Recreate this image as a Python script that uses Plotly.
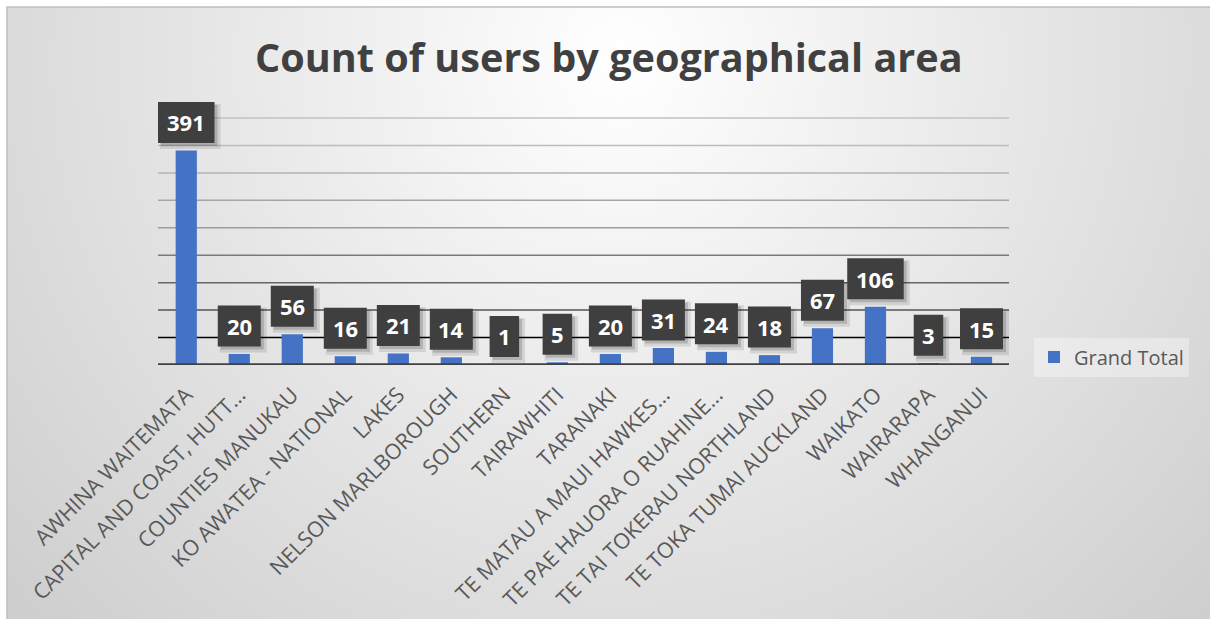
import base64
import plotly.graph_objects as go

# ---- data -------------------------------------------------------------
categories = [
    "AWHINA WAITEMATA",
    "CAPITAL AND COAST, HUTT…",
    "COUNTIES MANUKAU",
    "KO AWATEA - NATIONAL",
    "LAKES",
    "NELSON MARLBOROUGH",
    "SOUTHERN",
    "TAIRAWHITI",
    "TARANAKI",
    "TE MATAU A MAUI HAWKES…",
    "TE PAE HAUORA O RUAHINE…",
    "TE TAI TOKERAU NORTHLAND",
    "TE TOKA TUMAI AUCKLAND",
    "WAIKATO",
    "WAIRARAPA",
    "WHANGANUI",
]
users = [391, 20, 56, 16, 21, 14, 1, 5, 20, 31, 24, 18, 67, 106, 3, 15]
series_name = "Grand Total"
title_text = "Count of users by geographical area"
grid_values = [50, 100, 150, 200, 250, 300, 350, 400, 450]
grid_max = 450

# ---- layout geometry (pixels) ------------------------------------------
W, H = 1210, 619
GRID_TOP = 118                      # pixel row of the top grid line
PLOT_L, PLOT_R, PLOT_T, PLOT_B = 158, 1009, 80, 365
PW, PH = PLOT_R - PLOT_L, PLOT_B - PLOT_T
FRAME_X, FRAME_Y = 7, 7
# extend the value range above the top grid line so label boxes are not clipped
y_top = grid_max * PH / (PLOT_B - GRID_TOP)


def px_x(px):
    return (px - PLOT_L) / PW


def px_y(py):
    return (PLOT_B - py) / PH


# grid lines fade from black at the bottom to light grey at the top
grid_colors = ["#000000", "#555555", "#666666", "#7a7a7a", "#9c9c9c",
               "#a6a6a6", "#b3b3b3", "#bdbdbd", "#c2c2c2"]

BAR_COLOR = "#4472C4"
FONT = "Open Sans"
LABEL_LIFT = 28      # px from bar top to label centre
LABEL_H = 41         # label box height, px

# radial-gradient background for the chart frame
fw, fh = W - FRAME_X, H - FRAME_Y
svg = (
    f"<svg xmlns='http://www.w3.org/2000/svg' width='{fw}' height='{fh}'>"
    "<defs><radialGradient id='g' gradientUnits='userSpaceOnUse' "
    "cx='613' cy='53' r='800'>"
    "<stop offset='0' stop-color='#ffffff'/>"
    "<stop offset='1' stop-color='#cfcfcf'/>"
    "</radialGradient></defs>"
    f"<rect width='{fw}' height='{fh}' fill='url(#g)'/></svg>"
)
bg_uri = "data:image/svg+xml;base64," + base64.b64encode(svg.encode()).decode()

fig = go.Figure()
fig.add_trace(go.Bar(
    x=categories, y=users, name=series_name,
    marker=dict(color=BAR_COLOR, line=dict(width=0)),
    width=0.4,
))

shapes = []
for v, c in zip(grid_values, grid_colors):
    shapes.append(dict(type="line", xref="paper", yref="y", x0=0, x1=1,
                       y0=v, y1=v, line=dict(color=c, width=1.5), layer="below"))
# category axis base line
shapes.append(dict(type="line", xref="paper", yref="y", x0=0, x1=1,
                   y0=0, y1=0, line=dict(color="#404040", width=3.5), layer="above"))
# chart frame border
shapes.append(dict(type="rect", xref="paper", yref="paper",
                   x0=px_x(FRAME_X), x1=px_x(W + 5), y0=px_y(H + 5), y1=px_y(FRAME_Y),
                   line=dict(color="#bfbfbf", width=1.5), layer="below"))

# data-label callouts: soft shadow, then the dark box, anchored on each bar top
for i, v in enumerate(users):
    bw = 16 + 13.5 * len(str(v))
    for dx, dy, alpha, grow in [(4, -4, 0.10, 2), (3, -3, 0.16, 0)]:
        shapes.append(dict(
            type="rect", xref="x", yref="y",
            xsizemode="pixel", ysizemode="pixel", xanchor=i, yanchor=v,
            x0=-bw / 2 + dx - grow, x1=bw / 2 + dx + grow,
            y0=LABEL_LIFT - LABEL_H / 2 + dy - grow,
            y1=LABEL_LIFT + LABEL_H / 2 + dy + grow,
            fillcolor=f"rgba(0,0,0,{alpha})", line=dict(width=0), layer="above",
        ))
    shapes.append(dict(
        type="rect", xref="x", yref="y",
        xsizemode="pixel", ysizemode="pixel", xanchor=i, yanchor=v,
        x0=-bw / 2, x1=bw / 2,
        y0=LABEL_LIFT - LABEL_H / 2, y1=LABEL_LIFT + LABEL_H / 2,
        fillcolor="#3f3f3f", line=dict(width=0), layer="above",
    ))

annotations = []
for cat, v in zip(categories, users):
    annotations.append(dict(
        x=cat, y=v, xref="x", yref="y", text=f"<b>{v}</b>", showarrow=False,
        yshift=LABEL_LIFT, xanchor="center", yanchor="middle",
        font=dict(family=FONT, size=22, color="#ffffff"),
    ))

annotations.append(dict(
    x=px_x(609), y=px_y(57), xref="paper", yref="paper",
    text=f"<b>{title_text}</b>", showarrow=False,
    xanchor="center", yanchor="middle",
    font=dict(family=FONT, size=39.6, color="#404040"),
))

fig.update_layout(
    width=W, height=H,
    margin=dict(l=PLOT_L, r=W - PLOT_R, t=PLOT_T, b=H - PLOT_B, pad=0,
                autoexpand=False),
    paper_bgcolor="#ffffff",
    plot_bgcolor="rgba(0,0,0,0)",
    font=dict(family=FONT, color="#595959"),
    bargap=0.6,
    showlegend=True,
    legend=dict(
        x=px_x(1034), y=px_y(357), xanchor="left", yanchor="middle",
        bgcolor="rgba(255,255,255,0.35)", borderwidth=0,
        font=dict(family=FONT, size=20, color="#595959"),
    ),
    xaxis=dict(
        tickangle=-45, tickfont=dict(family=FONT, size=21.5, color="#595959"),
        showgrid=False, showline=False, ticks="", zeroline=False,
        ticklabelstandoff=12, automargin=False,
    ),
    yaxis=dict(range=[0, y_top], visible=False, showgrid=False,
               zeroline=False, automargin=False),
    shapes=shapes,
    annotations=annotations,
    images=[dict(
        source=bg_uri, xref="paper", yref="paper",
        x=px_x(FRAME_X), y=px_y(FRAME_Y),
        sizex=fw / PW, sizey=fh / PH,
        xanchor="left", yanchor="top", sizing="stretch", layer="below",
    )],
)

fig.write_html("out.html")
